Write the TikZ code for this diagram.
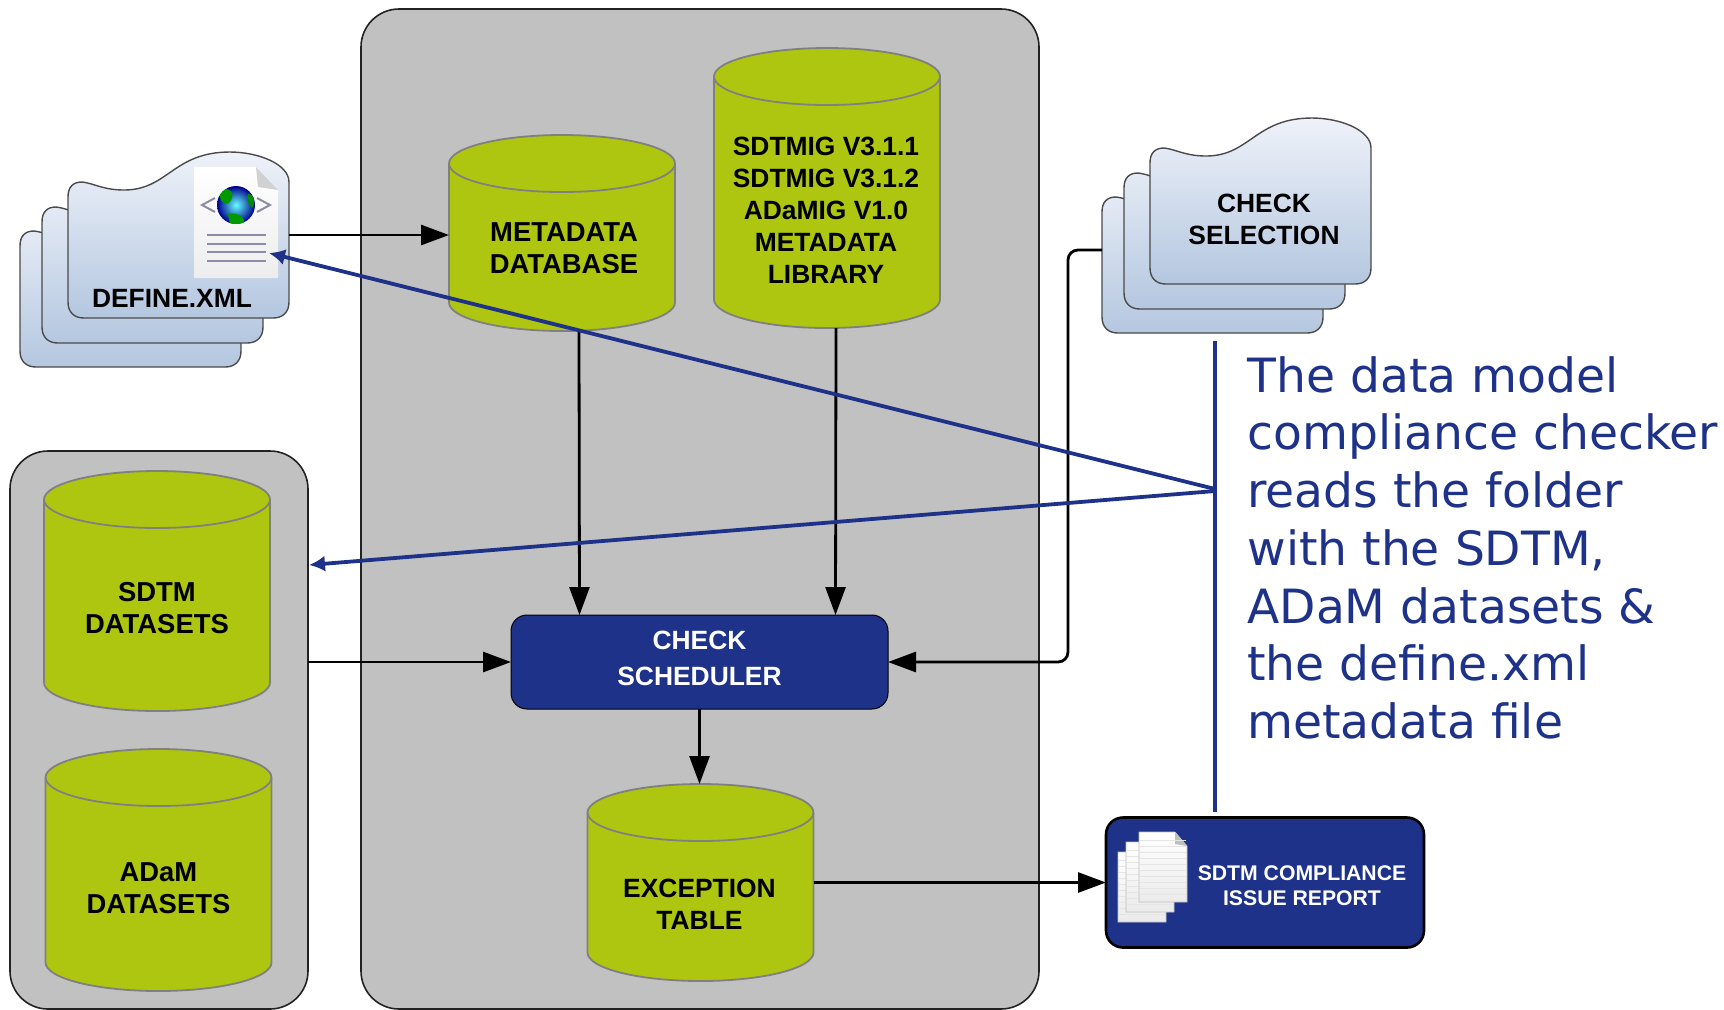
\documentclass[tikz,border=0pt]{standalone}
\usepackage{fontspec}
\setmainfont{Liberation Sans}
\newfontfamily\versa{DejaVu Sans}
\usetikzlibrary{arrows.meta,calc}
\definecolor{panelgrey}{HTML}{C1C1C1}
\definecolor{paneledge}{HTML}{222222}
\definecolor{cardedge}{HTML}{4A4A4A}
\definecolor{olive}{HTML}{AEC60F}
\definecolor{oliveedge}{HTML}{808080}
\definecolor{navy}{HTML}{1D3288}
\definecolor{cardtop}{HTML}{EEF2F9}
\definecolor{cardbot}{HTML}{B4C7E0}
\definecolor{lilac}{HTML}{8C8CA8}
\tikzset{
  panel/.style={draw=paneledge,fill=panelgrey,line width=.8pt,rounded corners=19pt,inner sep=0,outer sep=0},
  drumface/.style={draw=oliveedge,fill=olive,line width=.9pt},
  drumbox/.style={inner sep=0,outer sep=0,minimum width=113pt},
  flow/.style={-{Triangle[length=14pt,width=10pt]},line width=1.4pt,black},
  bluelink/.style={navy,line width=1.9pt},
  bluearrow/.style={bluelink,-{Latex[length=8pt,width=8pt]}},
  label/.style={align=center,font=\fontsize{13.2}{16}\selectfont\bfseries,text=black,inner sep=0},
  widelabel/.style={label,font=\fontsize{13.7}{16}\selectfont\bfseries},
  navybox/.style={fill=navy,inner sep=0,outer sep=0,align=center,text=white},
  card/.pic={
    \path[draw=cardedge,line width=.7pt,top color=cardtop,bottom color=cardbot]
      (0,150) -- (0,45) .. controls (0,35) and (5,30) .. (14,30)
      .. controls (25,31) and (35,38) .. (56,38)
      .. controls (100,38) and (105,0) .. (162,0)
      .. controls (190,0) and (221,12) .. (221,30)
      -- (221,150) .. controls (221,160) and (215,166) .. (205,166)
      -- (16,166) .. controls (6,166) and (0,160) .. (0,150) -- cycle;
  },
  sheet/.pic={
    \path[draw=black!25,line width=.3pt,top color=white,bottom color=black!8]
      (0,0) -- (36,0) -- (48,14) -- (48,70) -- (0,70) -- cycle;
    \fill[black!25] (36,0) -- (36,12) -- (48,14) -- cycle;
    \foreach \k in {8,14,...,66} \draw[black!10,line width=.25pt] (1,\k) -- (47,\k);
  },
}
% name, centre x, top y, bottom y, height in pt
\newcommand{\drumat}[5]{%
  \path[drumface] ({#2-113},{#3+28.5}) arc[start angle=180,end angle=0,x radius=56.5pt,y radius=14.25pt]
    -- ({#2+113},{#4-28.5}) arc[start angle=0,end angle=-180,x radius=56.5pt,y radius=14.25pt] -- cycle;
  \draw[draw=oliveedge,line width=.9pt] ({#2-113},{#3+28.5}) arc[start angle=180,end angle=360,x radius=56.5pt,y radius=14.25pt];
  \node[drumbox,minimum height=#5pt] (#1) at (#2,{(#3+#4)/2}) {};
}
\begin{document}
\begin{tikzpicture}[x=0.5pt,y=-0.5pt]
\useasboundingbox (0,0) rectangle (1724,1009);
\clip (0,0) rectangle (1724,1009);
% panels
\node[panel,minimum width=339pt,minimum height=500pt] (midpanel) at (700,509) {};
\node[panel,minimum width=149pt,minimum height=279pt] (leftpanel) at (159,730) {};
% cards: define
\pic at (20,201) {card};
\pic at (42,177) {card};
\pic at (68,152) {card};
% cards: selection
\pic at (1102,167) {card};
\pic at (1124,143) {card};
\pic at (1150,118) {card};
\coordinate (defout) at (289,235);
\coordinate (defin) at (269,253);
\coordinate (selout) at (1102,250);
\node[label] (deflabel) at (172,298) {DEFINE.XML};
\node[label] (sellabel) at (1264,219) {CHECK\\SELECTION};
% document icon
\path[top color=white,bottom color=black!7] (194,167) -- (256,167) -- (278,190) -- (278,278) -- (194,278) -- cycle;
\fill[black!18] (256,167) -- (258,187) -- (278,190) -- cycle;
\draw[lilac,line width=1pt] (215,198) -- (202,205) -- (215,212);
\draw[lilac,line width=1pt] (257,198) -- (270,205) -- (257,212);
\foreach \ly in {235,244,252,261} \draw[lilac,line width=1.1pt] (207,\ly) -- (266,\ly);
\begin{scope}
  \clip (236,205) circle (19);
  \shade[inner color=cyan!60!white,outer color=blue!55!black] (236,205) circle (19);
  \fill[green!60!black] (221,190) .. controls (232,186) and (236,196) .. (229,203) .. controls (222,206) and (218,198) .. (221,190) -- cycle;
  \fill[green!60!black] (228,214) .. controls (236,212) and (246,216) .. (244,224) -- (230,224) -- cycle;
  \fill[green!55!black] (248,194) .. controls (255,194) and (256,204) .. (252,208) .. controls (248,204) and (246,198) .. (248,194) -- cycle;
\end{scope}
% drums
\drumat{meta}{562}{135}{331}{98}
\drumat{lib}{827}{48}{328}{140}
\drumat{sdtm}{157}{471}{711}{120}
\drumat{adam}{158.5}{749}{991}{121}
\drumat{exc}{700.5}{784}{981}{98.5}
\node[widelabel] (metatext) at (564,248) {METADATA\\DATABASE};
\node[label] (libtext) at (826,210) {SDTMIG V3.1.1\\SDTMIG V3.1.2\\ADaMIG V1.0\\METADATA\\LIBRARY};
\node[widelabel] (sdtmtext) at (157,608.5) {SDTM\\DATASETS};
\node[widelabel] (adamtext) at (158.5,887.7) {ADaM\\DATASETS};
\node[label] (exctext) at (699.5,904) {EXCEPTION\\TABLE};
% boxes
\node[navybox,draw=black,line width=.5pt,rounded corners=8pt,minimum width=188.5pt,minimum height=47pt] (sched) at (699.5,662) {};
\node[font=\fontsize{13.2}{18}\selectfont\bfseries,text=white,align=center,inner sep=0] (schedtext) at (699.5,658) {CHECK\\SCHEDULER};
\node[navybox,draw=black,line width=1.3pt,rounded corners=8.5pt,minimum width=159pt,minimum height=65pt] (report) at (1265,882.5) {};
\node[font=\fontsize{10.6}{12.5}\selectfont\bfseries,text=white,align=center,inner sep=0] (reptext) at (1302,886) {SDTM COMPLIANCE\\ISSUE REPORT};
\pic at (1118,852) {sheet};
\pic at (1126,842) {sheet};
\pic at (1139,832) {sheet};
% black connectors
\draw[flow] (defout) -- (defout -| meta.west);
\draw[flow] ([xshift=8.5pt]meta.south) -- ([xshift=-60pt]sched.north);
\draw[flow] ([xshift=4.5pt]lib.south) -- ([xshift=68pt]sched.north);
\draw[flow] (sched.west -| leftpanel.east) -- (sched.west);
\draw[flow,rounded corners=5pt] (selout) -- (1068,250) -- (1068,662) -- (sched.east);
\draw[flow] (sched.south) -- (sched.south |- exc.north);
\draw[flow] (report.west -| exc.east) -- (report.west);
% blue annotation
\coordinate (bluetop) at (1215,341);
\coordinate (bluebot) at (1215,812);
\coordinate (bluejoin) at (1215,489);
\coordinate (bluejoinb) at (1215,491);
\coordinate (leftin) at (309,565);
\draw[bluelink] (bluetop) -- (bluebot);
\draw[bluearrow] (bluejoin) -- (defin);
\draw[bluearrow] (bluejoinb) -- (leftin);
\node[anchor=north west,inner sep=0,text=navy,align=left,
  font=\versa\fontsize{23.6}{28.85}\selectfont] (note) at (1247,356)
  {The data model\\compliance checker\\reads the folder\\with the SDTM,\\ADaM datasets \&\\the define.xml\\metadata file};
\end{tikzpicture}
\end{document}
